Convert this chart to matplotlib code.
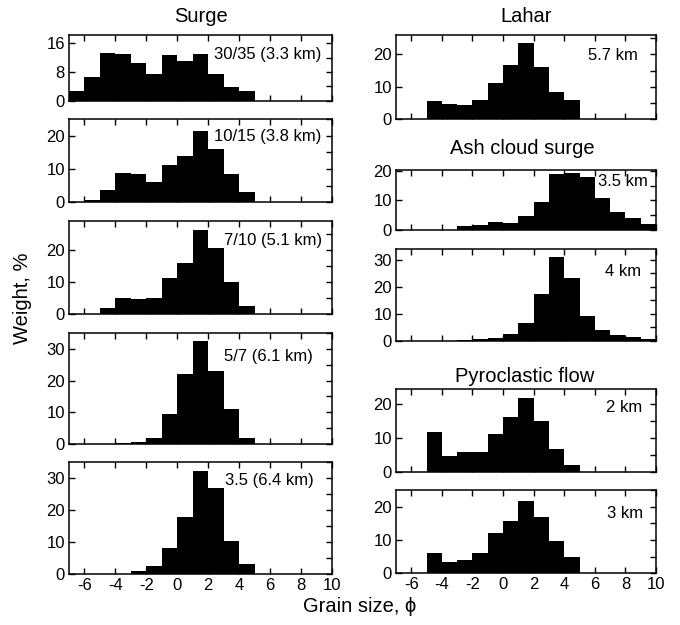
import matplotlib
matplotlib.use("Agg")
import matplotlib.pyplot as plt
from matplotlib.ticker import MultipleLocator
import numpy as np

plt.rcParams['font.family'] = ['Liberation Sans', 'DejaVu Sans']
plt.rcParams['axes.unicode_minus'] = False

# bin left edges (phi), width 1
bin_edges = list(range(-7, 10))

def full(d):
    return [d.get(b, 0.0) for b in bin_edges]

surge_3_3 = full({-7: 2.8, -6: 6.7, -5: 13.4, -4: 13.0, -3: 10.5, -2: 7.3, -1: 12.7, 0: 11.0, 1: 13.1, 2: 7.3, 3: 3.8, 4: 2.6})
surge_3_8 = full({-6: 0.6, -5: 3.6, -4: 8.8, -3: 8.4, -2: 6.0, -1: 11.3, 0: 13.9, 1: 21.4, 2: 16.1, 3: 8.6, 4: 3.2})
surge_5_1 = full({-5: 1.8, -4: 5.0, -3: 4.7, -2: 4.9, -1: 11.3, 0: 16.0, 1: 26.1, 2: 20.5, 3: 9.9, 4: 2.5})
surge_6_1 = full({-4: 0.2, -3: 0.6, -2: 1.9, -1: 9.5, 0: 22.1, 1: 32.5, 2: 23.0, 3: 11.0, 4: 1.9})
surge_6_4 = full({-3: 1.0, -2: 2.3, -1: 8.2, 0: 17.9, 1: 32.4, 2: 26.9, 3: 10.3, 4: 3.1})

lahar_5_7 = full({-5: 5.7, -4: 4.7, -3: 4.4, -2: 5.8, -1: 11.1, 0: 16.6, 1: 23.5, 2: 16.1, 3: 8.5, 4: 6.1})
ash_3_5 = full({-3: 1.35, -2: 1.7, -1: 2.7, 0: 2.2, 1: 4.8, 2: 9.6, 3: 18.8, 4: 19.4, 5: 17.8, 6: 10.8, 7: 6.2, 8: 3.9, 9: 1.9})
ash_4 = full({-3: 0.25, -2: 0.5, -1: 0.9, 0: 2.5, 1: 6.7, 2: 17.3, 3: 31.2, 4: 23.4, 5: 9.3, 6: 4.0, 7: 2.0, 8: 1.2, 9: 0.7})
pf_2 = full({-5: 11.9, -4: 4.7, -3: 5.7, -2: 5.9, -1: 11.2, 0: 16.1, 1: 21.8, 2: 15.1, 3: 6.6, 4: 2.0})
pf_3 = full({-5: 6.2, -4: 3.5, -3: 4.1, -2: 6.2, -1: 12.1, 0: 15.6, 1: 21.6, 2: 16.9, 3: 9.6, 4: 4.8})

labels = ["30/35 (3.3 km)", "10/15 (3.8 km)", "7/10 (5.1 km)", "5/7 (6.1 km)", "3.5 (6.4 km)",
          "5.7 km", "3.5 km", "4 km", "2 km", "3 km"]
xticks = [-6, -4, -2, 0, 2, 4, 6, 8, 10]

W, H = 680, 625
fig = plt.figure(figsize=(6.8, 6.25), dpi=100)

def add_ax(x0, x1, top, bot):
    return fig.add_axes([x0 / W, 1 - bot / H, (x1 - x0) / W, (bot - top) / H])

# (data, x0, x1, top, bottom, ylim, major, minor, label, label_x, label_y, show_xlabels)
panels = [
    (surge_3_3, 69, 332, 35, 100.7, 18.3, 8, 4, labels[0], 321, 55, False),
    (surge_3_8, 69, 332, 119.3, 202.3, 25, 10, 5, labels[1], 321, 136, False),
    (surge_5_1, 69, 332, 220.5, 314, 29.2, 10, 5, labels[2], 322, 241, False),
    (surge_6_1, 69, 332, 333, 444, 35, 10, 5, labels[3], 313, 356, False),
    (surge_6_4, 69, 332, 462.3, 573.7, 35, 10, 5, labels[4], 314, 480, True),
    (lahar_5_7, 396, 656, 35, 119.3, 26, 10, 5, labels[5], 638, 55, False),
    (ash_3_5, 396, 656, 169.7, 230, 20.4, 10, 5, labels[6], 648, 182, False),
    (ash_4, 396, 656, 249, 340.7, 34, 10, 5, labels[7], 641, 271, False),
    (pf_2, 396, 656, 389, 471.7, 24.5, 10, 5, labels[8], 642, 407, False),
    (pf_3, 396, 656, 490, 573.3, 25, 10, 5, labels[9], 643, 513, True),
]

for data, x0, x1, top, bot, ylim, major, minor, lab, lx, ly, showx in panels:
    ax = add_ax(x0, x1, top, bot)
    ax.bar(bin_edges, data, width=1.0, align='edge', color='black', edgecolor='none', linewidth=0)
    ax.set_xlim(-7, 10)
    ax.set_ylim(0, ylim)
    ax.set_xticks(xticks)
    ax.yaxis.set_major_locator(MultipleLocator(major))
    ax.yaxis.set_minor_locator(MultipleLocator(minor))
    ax.tick_params(axis='both', which='both', direction='in', top=True, right=True,
                   labelsize=12, length=4, width=1, pad=3)
    ax.tick_params(axis='y', which='minor', left=False, length=4)
    if not showx:
        ax.set_xticklabels([])
    for s in ax.spines.values():
        s.set_linewidth(1.1)
    fig.text(lx / W, 1 - ly / H, lab, ha='right', va='center', fontsize=12)

fig.text(201 / W, 1 - 17 / H, "Surge", ha='center', va='center', fontsize=14.5)
fig.text(526 / W, 1 - 17 / H, "Lahar", ha='center', va='center', fontsize=14.5)
fig.text(522 / W, 1 - 148 / H, "Ash cloud surge", ha='center', va='center', fontsize=14.5)
fig.text(525 / W, 1 - 376 / H, "Pyroclastic flow", ha='center', va='center', fontsize=14.5)
fig.text(22 / W, 1 - 298 / H, "Weight, %", ha='center', va='center', rotation=90, fontsize=14.5)
fig.text(360 / W, 1 - 606 / H, "Grain size, \u03d5", ha='center', va='center', fontsize=14.5)

fig.savefig("out.png", dpi=100)
